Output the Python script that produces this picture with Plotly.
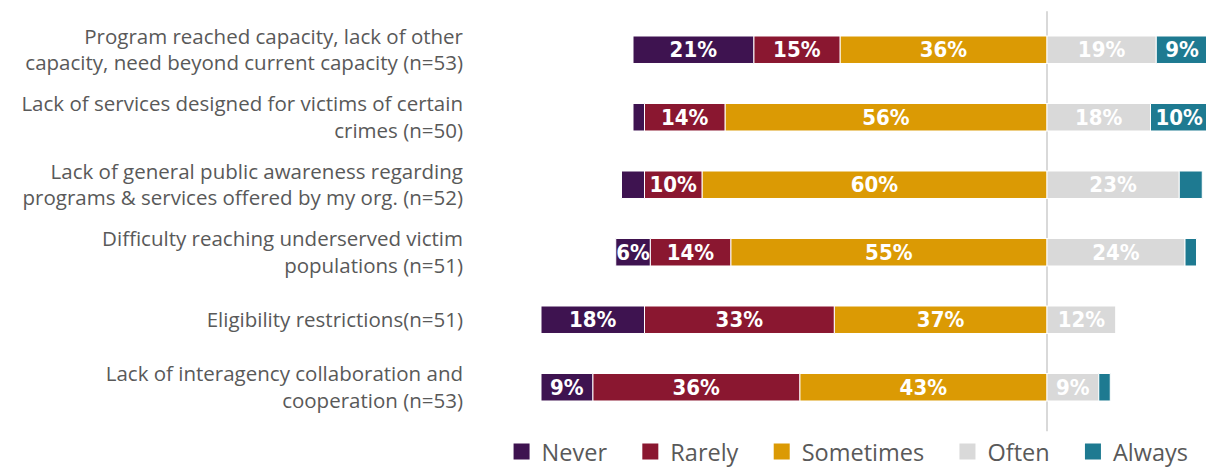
import plotly.graph_objects as go

# Survey items, listed top to bottom
categories = [
    "Program reached capacity, lack of other<br>capacity, need beyond current capacity (n=53)",
    "Lack of services designed for victims of certain<br>crimes (n=50)",
    "Lack of general public awareness regarding<br>programs & services offered by my org. (n=52)",
    "Difficulty reaching underserved victim<br>populations (n=51)",
    "Eligibility restrictions(n=51)",
    "Lack of interagency collaboration and<br>cooperation (n=53)",
]

# Percent of respondents per response option
never = [21, 2, 4, 6, 18, 9]
rarely = [15, 14, 10, 14, 33, 36]
sometimes = [36, 56, 60, 55, 37, 43]
often = [19, 18, 23, 24, 12, 9]
always = [9, 10, 4, 2, 0, 2]

response_options = ["Never", "Rarely", "Sometimes", "Often", "Always"]

# Segments this narrow carry no value label
min_labelled = 5

colors = {
    "Never": "#3E1350",
    "Rarely": "#8A1730",
    "Sometimes": "#DB9A04",
    "Often": "#D9D9D9",
    "Always": "#1E7A91",
}

label_font = dict(family="DejaVu Sans Condensed, DejaVu Sans", size=22, color="white")
text_font = dict(family="Open Sans", color="#595959")


def labels(values):
    return [f"<b>{v}%</b>" if v >= min_labelled else "" for v in values]


fig = go.Figure()

# Negative side stacks outward from zero: Sometimes, then Rarely, then Never
for name, vals, sign in [
    ("Sometimes", sometimes, -1),
    ("Rarely", rarely, -1),
    ("Never", never, -1),
    ("Often", often, 1),
    ("Always", always, 1),
]:
    fig.add_trace(
        go.Bar(
            name=name,
            y=categories,
            x=[sign * v for v in vals],
            orientation="h",
            marker=dict(color=colors[name], line=dict(color="white", width=1)),
            text=labels(vals),
            textposition="inside",
            insidetextanchor="middle",
            textangle=0,
            constraintext="none",
            textfont=label_font,
            showlegend=False,
            hoverinfo="skip",
        )
    )

# Legend entries with larger square swatches
for rank, name in enumerate(response_options):
    pad = "" if name == response_options[-1] else "\u00a0" * 3
    fig.add_trace(
        go.Scatter(
            name=name + pad,
            x=[None],
            y=[None],
            mode="markers",
            marker=dict(symbol="square", size=18, color=colors[name]),
            legendrank=rank + 1,
            showlegend=True,
        )
    )

fig.add_shape(
    type="line",
    xref="x",
    yref="paper",
    x0=0,
    x1=0,
    y0=-0.025,
    y1=1.012,
    line=dict(color="#D9D9D9", width=2),
    layer="below",
)

fig.update_layout(
    width=1206,
    height=469,
    margin=dict(l=475, r=0, t=16, b=48, autoexpand=False),
    barmode="relative",
    bargap=0.593,
    plot_bgcolor="white",
    paper_bgcolor="white",
    font=text_font,
    legend=dict(
        orientation="h",
        x=0.983,
        xanchor="right",
        yref="container",
        y=0.037,
        yanchor="middle",
        bgcolor="rgba(0,0,0,0)",
        font=dict(family="Open Sans", size=23.5, color="#595959"),
        itemwidth=30,
        traceorder="normal",
    ),
    xaxis=dict(
        range=[-99.48, 27.65],
        showgrid=False,
        zeroline=False,
        showticklabels=False,
        fixedrange=True,
    ),
    yaxis=dict(
        autorange="reversed",
        showgrid=False,
        zeroline=False,
        tickfont=dict(family="Open Sans", size=20.5, color="#595959"),
        ticks="",
        ticklabelstandoff=11,
    ),
)

fig.write_html("out.html")
